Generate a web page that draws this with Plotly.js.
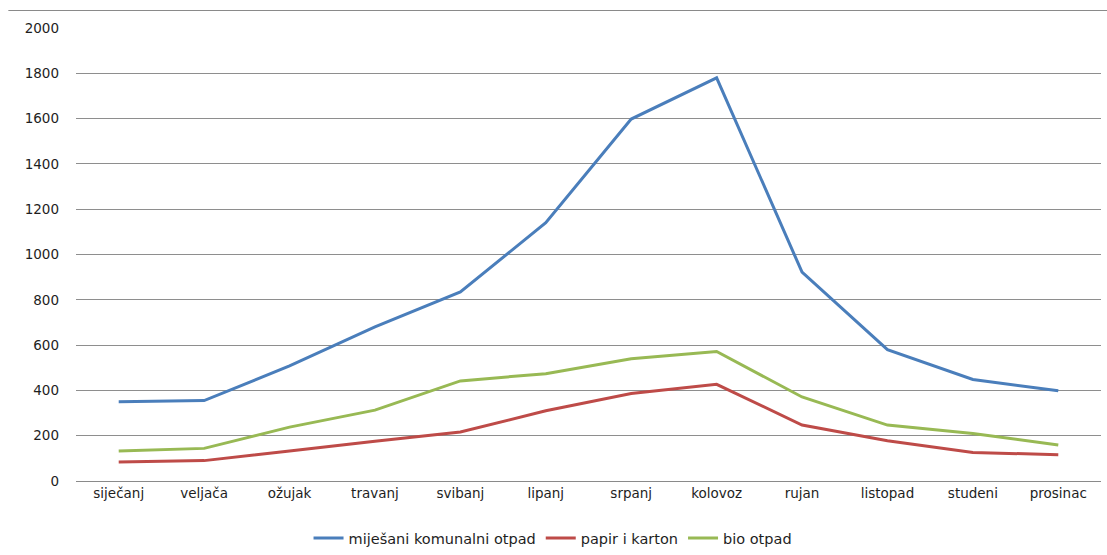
<!DOCTYPE html>
<html>
<head>
<meta charset="utf-8">
<script src="https://cdn.plot.ly/plotly-3.0.1.min.js"></script>
<style>html,body{margin:0;padding:0;background:#fff;}#chart{width:1107px;height:555px;}</style>
</head>
<body>
<div id="chart"></div>
<script>
const months = ["siječanj","veljača","ožujak","travanj","svibanj","lipanj","srpanj","kolovoz","rujan","listopad","studeni","prosinac"];
const mijesani = [350, 355, 508, 680, 835, 1140, 1598, 1780, 922, 580, 448, 398];
const papir = [84, 90, 132, 176, 216, 310, 386, 427, 247, 178, 126, 116];
const bio = [132, 144, 238, 313, 442, 474, 540, 572, 371, 247, 210, 159];
const seriesNames = ["mije\u0161ani komunalni otpad", "papir i karton", "bio otpad"];
const colors = ["#4A7EBB", "#BE4B48", "#98B954"];
const yTicks = [0,200,400,600,800,1000,1200,1400,1600,1800,2000];

const font = {family: "DejaVu Sans, Verdana, sans-serif", size: 13.5, color: "#1e1e1e"};
const legendFont = {family: "DejaVu Sans, Verdana, sans-serif", size: 14.5, color: "#1e1e1e"};
const traces = [mijesani, papir, bio].map((v, i) => ({
  x: months, y: v, type: "scatter", mode: "lines", name: seriesNames[i],
  line: {color: colors[i], width: 3}
}));

const layout = {
  width: 1107, height: 555,
  margin: {l: 75.5, r: 5.5, t: 27.5, b: 74, autoexpand: false},
  paper_bgcolor: "#fff", plot_bgcolor: "#fff",
  font: font,
  showlegend: true,
  legend: {orientation: "h", x: 0.4654, xanchor: "center", y: -0.126, yanchor: "middle", font: legendFont, tracegroupgap: 0},
  xaxis: {type: "category", range: [-0.5, 11.5], showgrid: false, zeroline: false, showline: true, linecolor: "#8a8a8a", linewidth: 1, ticks: "", tickangle: 0, tickfont: font, automargin: false, fixedrange: true},
  yaxis: {range: [0, 2000], tickvals: yTicks, ticktext: yTicks.map(String), showgrid: true, gridcolor: "#8e8e8e", gridwidth: 1, zeroline: false, showline: false, ticks: "", ticklabelstandoff: 16, tickfont: font, automargin: false, fixedrange: true},
  shapes: [{type: "line", xref: "paper", yref: "paper", x0: -0.066, x1: 1.01, y0: 1.0386, y1: 1.0386, line: {color: "#8a8a8a", width: 1}}]
};
Plotly.newPlot("chart", traces, layout, {displayModeBar: false, staticPlot: true});
</script>
</body>
</html>
